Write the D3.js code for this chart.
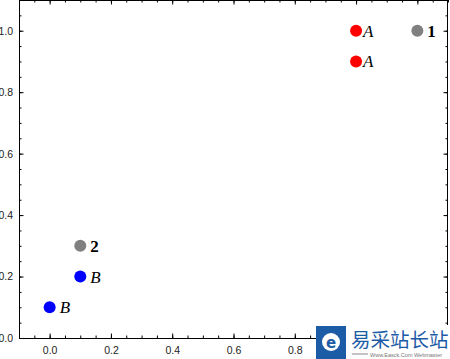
<!DOCTYPE html>
<html>
<head>
<meta charset="utf-8">
<script src="https://cdn.jsdelivr.net/npm/d3@7"></script>
<style>
  body { margin: 0; background: #fff; }
  .tick text { font-family: "Liberation Sans", Arial, sans-serif; font-size: 10.5px; fill: #222; }
  .domain { display: none; }
  .pt-label { font-family: "Liberation Serif", "Times New Roman", serif; font-size: 17px; }
</style>
</head>
<body>
<svg id="chart" width="450" height="359"></svg>
<script>
// point data
var ptX = [1.0, 1.0, 1.2, 0.1, 0.1, 0.0];
var ptY = [1.0, 0.9, 1.0, 0.3, 0.2, 0.1];
var ptLabel = ["A", "A", "1", "2", "B", "B"];

// tick values
var xTicks = [0.0, 0.2, 0.4, 0.6, 0.8, 1.0, 1.2];
var yTicks = [0.0, 0.2, 0.4, 0.6, 0.8, 1.0];

var svg = d3.select("#chart");
var frame = {left: 19, right: 448, top: 0, bottom: 338};

var x = d3.scaleLinear().domain([-0.1, 1.3]).range([frame.left, frame.right]);
var y = d3.scaleLinear().domain([0, 1.1]).range([frame.bottom, frame.top]);

var color = d3.scaleOrdinal()
    .domain(["A", "B", "1", "2"])
    .range(["#ff0000", "#0000ff", "#808080", "#808080"]);

// minor ticks every 0.05
var xMinor = d3.range(-0.1, 1.3001, 0.05).map(function(d) { return +d.toFixed(2); });
var yMinor = d3.range(0, 1.1001, 0.05).map(function(d) { return +d.toFixed(2); });

function addAxis(axis, tx, ty) {
    svg.append("g")
        .attr("transform", "translate(" + tx + "," + ty + ")")
        .call(axis)
        .selectAll("line").attr("stroke", "#000");
}

// minor ticks (inside the frame)
addAxis(d3.axisBottom(x).tickValues(xMinor).tickSize(-2.5).tickFormat(""), 0, frame.bottom);
addAxis(d3.axisTop(x).tickValues(xMinor).tickSize(-2.5).tickFormat(""), 0, frame.top);
addAxis(d3.axisLeft(y).tickValues(yMinor).tickSize(-2.5).tickFormat(""), frame.left, 0);
addAxis(d3.axisRight(y).tickValues(yMinor).tickSize(-2.5).tickFormat(""), frame.right, 0);

// major ticks
addAxis(d3.axisBottom(x).tickValues(xTicks).tickSize(-4.5).tickPadding(9).tickFormat(d3.format(".1f")), 0, frame.bottom);
addAxis(d3.axisTop(x).tickValues(xTicks).tickSize(-4.5).tickFormat(""), 0, frame.top);
addAxis(d3.axisLeft(y).tickValues(yTicks).tickSize(-4.5).tickPadding(6).tickFormat(d3.format(".1f")), frame.left, 0);
addAxis(d3.axisRight(y).tickValues(yTicks).tickSize(-4.5).tickFormat(""), frame.right, 0);

// frame
svg.append("rect")
    .attr("x", frame.left + 0.5).attr("y", frame.top + 0.5)
    .attr("width", frame.right - frame.left - 1).attr("height", frame.bottom - frame.top)
    .attr("fill", "none").attr("stroke", "#000").attr("stroke-width", 1);

var pts = d3.range(ptX.length);

svg.selectAll("circle.pt")
    .data(pts)
  .enter().append("circle")
    .attr("class", "pt")
    .attr("cx", function(i) { return x(ptX[i]); })
    .attr("cy", function(i) { return y(ptY[i]); })
    .attr("r", 6)
    .attr("fill", function(i) { return color(ptLabel[i]); });

svg.selectAll("text.pt-label")
    .data(pts)
  .enter().append("text")
    .attr("class", "pt-label")
    .attr("x", function(i) { return x(ptX[i]) + (ptLabel[i] == "A" ? 7 : 10); })
    .attr("y", function(i) { return y(ptY[i]) + 6; })
    .style("font-style", function(i) { return isNaN(+ptLabel[i]) ? "italic" : "normal"; })
    .style("font-weight", function(i) { return isNaN(+ptLabel[i]) ? "normal" : "bold"; })
    .text(function(i) { return ptLabel[i]; });

// watermark
var wm = svg.append("g");
wm.append("rect").attr("x", 316).attr("y", 325).attr("width", 134).attr("height", 34).attr("fill", "#fff");
wm.append("rect").attr("x", 316).attr("y", 326).attr("width", 30).attr("height", 33).attr("fill", "#1c5ba6");
wm.append("circle").attr("cx", 331).attr("cy", 342).attr("r", 9).attr("fill", "#fff");
wm.append("text").attr("x", 331).attr("y", 347.5).attr("text-anchor", "middle")
    .attr("font-family", "DejaVu Sans, sans-serif").attr("font-weight", "bold")
    .attr("font-size", 15).attr("fill", "#1c5ba6").text("e");
wm.append("text").attr("x", 351).attr("y", 347)
    .attr("font-family", "Noto Sans CJK SC, sans-serif").attr("font-size", 19.5)
    .attr("fill", "#1c5ba6").text("易采站长站");
wm.append("line").attr("x1", 352).attr("x2", 368).attr("y1", 354).attr("y2", 354).attr("stroke", "#888");
wm.append("text").attr("x", 370).attr("y", 356.5)
    .attr("font-family", "Liberation Sans, sans-serif").attr("font-size", 5.5)
    .attr("fill", "#777").text("Www.Easck.Com  Webmaster");
</script>
</body>
</html>
